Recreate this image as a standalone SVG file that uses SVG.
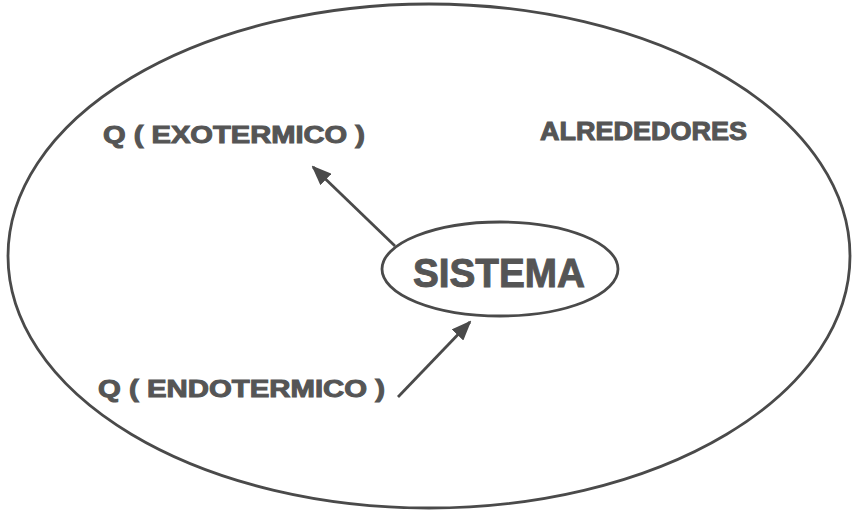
<svg xmlns="http://www.w3.org/2000/svg" width="857" height="514" viewBox="0 0 857 514">
<defs>
<style>
.lbl{font-family:"Liberation Sans",Arial,sans-serif;font-weight:bold;fill:#555;stroke:#555;stroke-width:1;}
.ln{stroke:#4a4a4a;stroke-width:2.8;fill:none;}
</style>
<marker id="ah" markerWidth="20" markerHeight="16" refX="18" refY="8" orient="auto" markerUnits="userSpaceOnUse" viewBox="0 0 20 16">
<path d="M0,0 L20,8 L0,16 z" fill="#4a4a4a"/>
</marker>
</defs>
<rect width="857" height="514" fill="#fff"/>
<g id="alrededores">
<ellipse class="ln" cx="429" cy="256" rx="421" ry="252"/>
<text class="lbl" x="540" y="140" font-size="25" textLength="207" lengthAdjust="spacingAndGlyphs">ALREDEDORES</text>
</g>
<g id="sistema">
<ellipse class="ln" cx="500" cy="269" rx="118" ry="47"/>
<text class="lbl" x="413" y="287" font-size="40" textLength="172" lengthAdjust="spacingAndGlyphs">SISTEMA</text>
</g>
<g id="exotermico">
<text class="lbl" x="103" y="143" font-size="24" textLength="262" lengthAdjust="spacingAndGlyphs">Q ( EXOTERMICO )</text>
</g>
<g id="endotermico">
<text class="lbl" x="98" y="397" font-size="24" textLength="287" lengthAdjust="spacingAndGlyphs">Q ( ENDOTERMICO )</text>
</g>
<g id="connectors">
<line class="ln" x1="395" y1="246" x2="313" y2="167" marker-end="url(#ah)" stroke-width="2.4"/>
<line class="ln" x1="398" y1="397" x2="470" y2="322" marker-end="url(#ah)" stroke-width="2.4"/>
</g>
</svg>
